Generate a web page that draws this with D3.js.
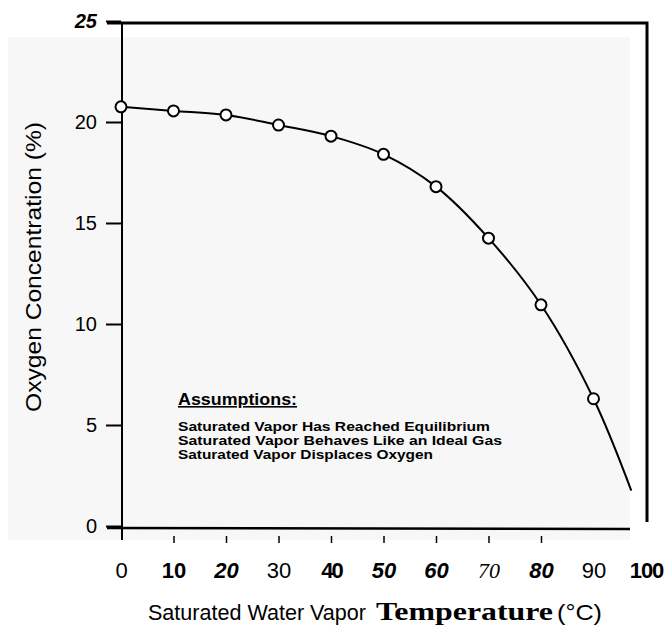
<!DOCTYPE html>
<html>
<head>
<meta charset="utf-8">
<script src="https://cdn.jsdelivr.net/npm/d3@7"></script>
<style>
    body { margin: 0; background: #ffffff; }
    svg { display: block; font-family: "Liberation Sans", Arial, sans-serif; }
</style>
</head>
<body>
<svg id="drawing_region"></svg>
<script>
// values
const temperatures = [0, 10, 20, 30, 40, 50, 60, 70, 80, 90];
const oxygen = [20.75, 20.55, 20.35, 19.85, 19.3, 18.4, 16.8, 14.25, 10.95, 6.3];
const curveEnd = [97.2, 1.75];   // where the fitted curve leaves the plot
const xTicks = [0, 10, 20, 30, 40, 50, 60, 70, 80, 90, 100];
const yTicks = [0, 5, 10, 15, 20, 25];
const assumptions = [
    'Saturated Vapor Has Reached Equilibrium',
    'Saturated Vapor Behaves Like an Ideal Gas',
    'Saturated Vapor Displaces Oxygen'
];

// the scan mixes typefaces on the x labels, keep that look
const xLabelStyle = {
    0: {}, 10: { weight: 'bold' }, 20: { weight: 'bold', style: 'italic' }, 30: {},
    40: { weight: 'bold', spacing: -2 }, 50: { weight: 'bold', style: 'italic' },
    60: { weight: 'bold', style: 'italic' }, 70: { style: 'italic', family: 'Liberation Serif' },
    80: { weight: 'bold', style: 'italic' }, 90: {}, 100: { weight: 'bold', spacing: -1 }
};

class OxygenChart {
    constructor(config) {
        this.config = config;
        this.init();
    }

    init() {
        let self = this;
        self.svg = d3.select(self.config.parent)
            .attr('width', self.config.width)
            .attr('height', self.config.height);

        self.xscale = d3.scaleLinear()
            .domain([0, 100])
            .range([121, 646]);

        self.yscale = d3.scaleLinear()
            .domain([0, 25])
            .range([526, 21]);
    }

    render() {
        let self = this;

        // scanned paper area
        self.svg.append('rect')
            .attr('x', 8).attr('y', 37)
            .attr('width', 622).attr('height', 503)
            .attr('fill', '#f7f7f7');

        // frame top and right
        self.svg.append('path')
            .attr('d', `M107,${self.yscale(25) + 2} H647 V522`)
            .attr('fill', 'none')
            .attr('stroke', 'black')
            .attr('stroke-width', 3);

        // y axis
        const yaxis = d3.axisLeft(self.yscale)
            .tickValues(yTicks)
            .tickSize(15)
            .tickPadding(9)
            .tickFormat(d3.format('d'));

        const yg = self.svg.append('g')
            .attr('transform', 'translate(121,0)')
            .call(yaxis);
        yg.select('.domain').remove();
        yg.selectAll('line').attr('stroke-width', 2);
        yg.selectAll('text')
            .attr('font-size', 20)
            .attr('font-family', '"Liberation Sans", Arial, sans-serif')
            .attr('fill', 'black')
            .attr('font-weight', d => d == 25 ? 'bold' : 'normal')
            .attr('font-style', d => d == 25 ? 'italic' : 'normal');

        self.svg.append('line')
            .attr('x1', 122).attr('x2', 122)
            .attr('y1', self.yscale(25) + 2).attr('y2', 540)
            .attr('stroke', 'black')
            .attr('stroke-width', 2);

        // x axis
        const xaxis = d3.axisBottom(self.xscale)
            .tickValues(xTicks)
            .tickSize(7)
            .tickPadding(19)
            .tickFormat(d3.format('d'));

        const xg = self.svg.append('g')
            .attr('transform', 'translate(0,536)')
            .call(xaxis);
        xg.select('.domain').remove();
        xg.selectAll('.tick line')
            .attr('stroke-width', 1.5)
            .attr('display', d => (d == 0 || d >= 90) ? 'none' : null);
        xg.selectAll('text')
            .attr('font-size', 22)
            .attr('fill', 'black')
            .attr('font-family', d => xLabelStyle[d].family || '"Liberation Sans", Arial, sans-serif')
            .attr('font-weight', d => xLabelStyle[d].weight || 'normal')
            .attr('font-style', d => xLabelStyle[d].style || 'normal')
            .attr('letter-spacing', d => xLabelStyle[d].spacing || 0);

        self.svg.append('line')
            .attr('x1', 107).attr('x2', 630)
            .attr('y1', 528).attr('y2', 529)
            .attr('stroke', 'black')
            .attr('stroke-width', 2.5);

        // fitted curve through the points
        const points = temperatures.map((t, i) => [t, oxygen[i]]);
        const line = d3.line()
            .x(d => self.xscale(d[0]))
            .y(d => self.yscale(d[1]))
            .curve(d3.curveCatmullRom);

        self.svg.append('path')
            .datum(points.concat([curveEnd]))
            .attr('d', line)
            .attr('fill', 'none')
            .attr('stroke', 'black')
            .attr('stroke-width', 2);

        self.svg.selectAll('circle.pt')
            .data(points)
            .enter()
            .append('circle')
            .attr('class', 'pt')
            .attr('cx', d => self.xscale(d[0]))
            .attr('cy', d => self.yscale(d[1]))
            .attr('r', 5.5)
            .attr('fill', 'white')
            .attr('stroke', 'black')
            .attr('stroke-width', 2);

        // assumptions note
        self.svg.append('text')
            .attr('x', 178).attr('y', 405)
            .attr('font-size', 16)
            .attr('font-weight', 'bold')
            .attr('text-decoration', 'underline')
            .attr('textLength', 119)
            .attr('lengthAdjust', 'spacingAndGlyphs')
            .text('Assumptions:');

        const widths = [312, 324, 255];
        self.svg.selectAll('text.note')
            .data(assumptions)
            .enter()
            .append('text')
            .attr('class', 'note')
            .attr('x', 178)
            .attr('y', (d, i) => 431 + i * 14)
            .attr('font-size', 12.5)
            .attr('font-weight', 'bold')
            .attr('textLength', (d, i) => widths[i])
            .attr('lengthAdjust', 'spacingAndGlyphs')
            .text(d => d);

        // x axis title, pieces set in different faces like the scan
        const titleParts = [
            { text: 'Saturated Water Vapor', x: 148, w: 218, size: 22, weight: 'normal', family: '"Liberation Sans", Arial, sans-serif' },
            { text: 'Temperature', x: 376, w: 177, size: 25, weight: 'bold', family: '"Liberation Serif", "Times New Roman", serif' },
            { text: '(°C)', x: 557, w: 45, size: 22, weight: 'normal', family: '"Liberation Sans", Arial, sans-serif' }
        ];
        self.svg.selectAll('text.xtitle')
            .data(titleParts)
            .enter()
            .append('text')
            .attr('class', 'xtitle')
            .attr('x', d => d.x)
            .attr('y', 620)
            .attr('font-size', d => d.size)
            .attr('font-weight', d => d.weight)
            .attr('font-family', d => d.family)
            .attr('textLength', d => d.w)
            .attr('lengthAdjust', 'spacingAndGlyphs')
            .attr('fill', 'black')
            .text(d => d.text);

        self.svg.append('text')
            .attr('transform', 'translate(41,267) rotate(-90)')
            .attr('text-anchor', 'middle')
            .attr('font-size', 22)
            .attr('textLength', 290)
            .attr('lengthAdjust', 'spacingAndGlyphs')
            .attr('fill', 'black')
            .text('Oxygen Concentration (%)');
    }
}

const config = {
    parent: '#drawing_region',
    width: 671,
    height: 634
};

let chart = new OxygenChart(config);
chart.render();
</script>
</body>
</html>
